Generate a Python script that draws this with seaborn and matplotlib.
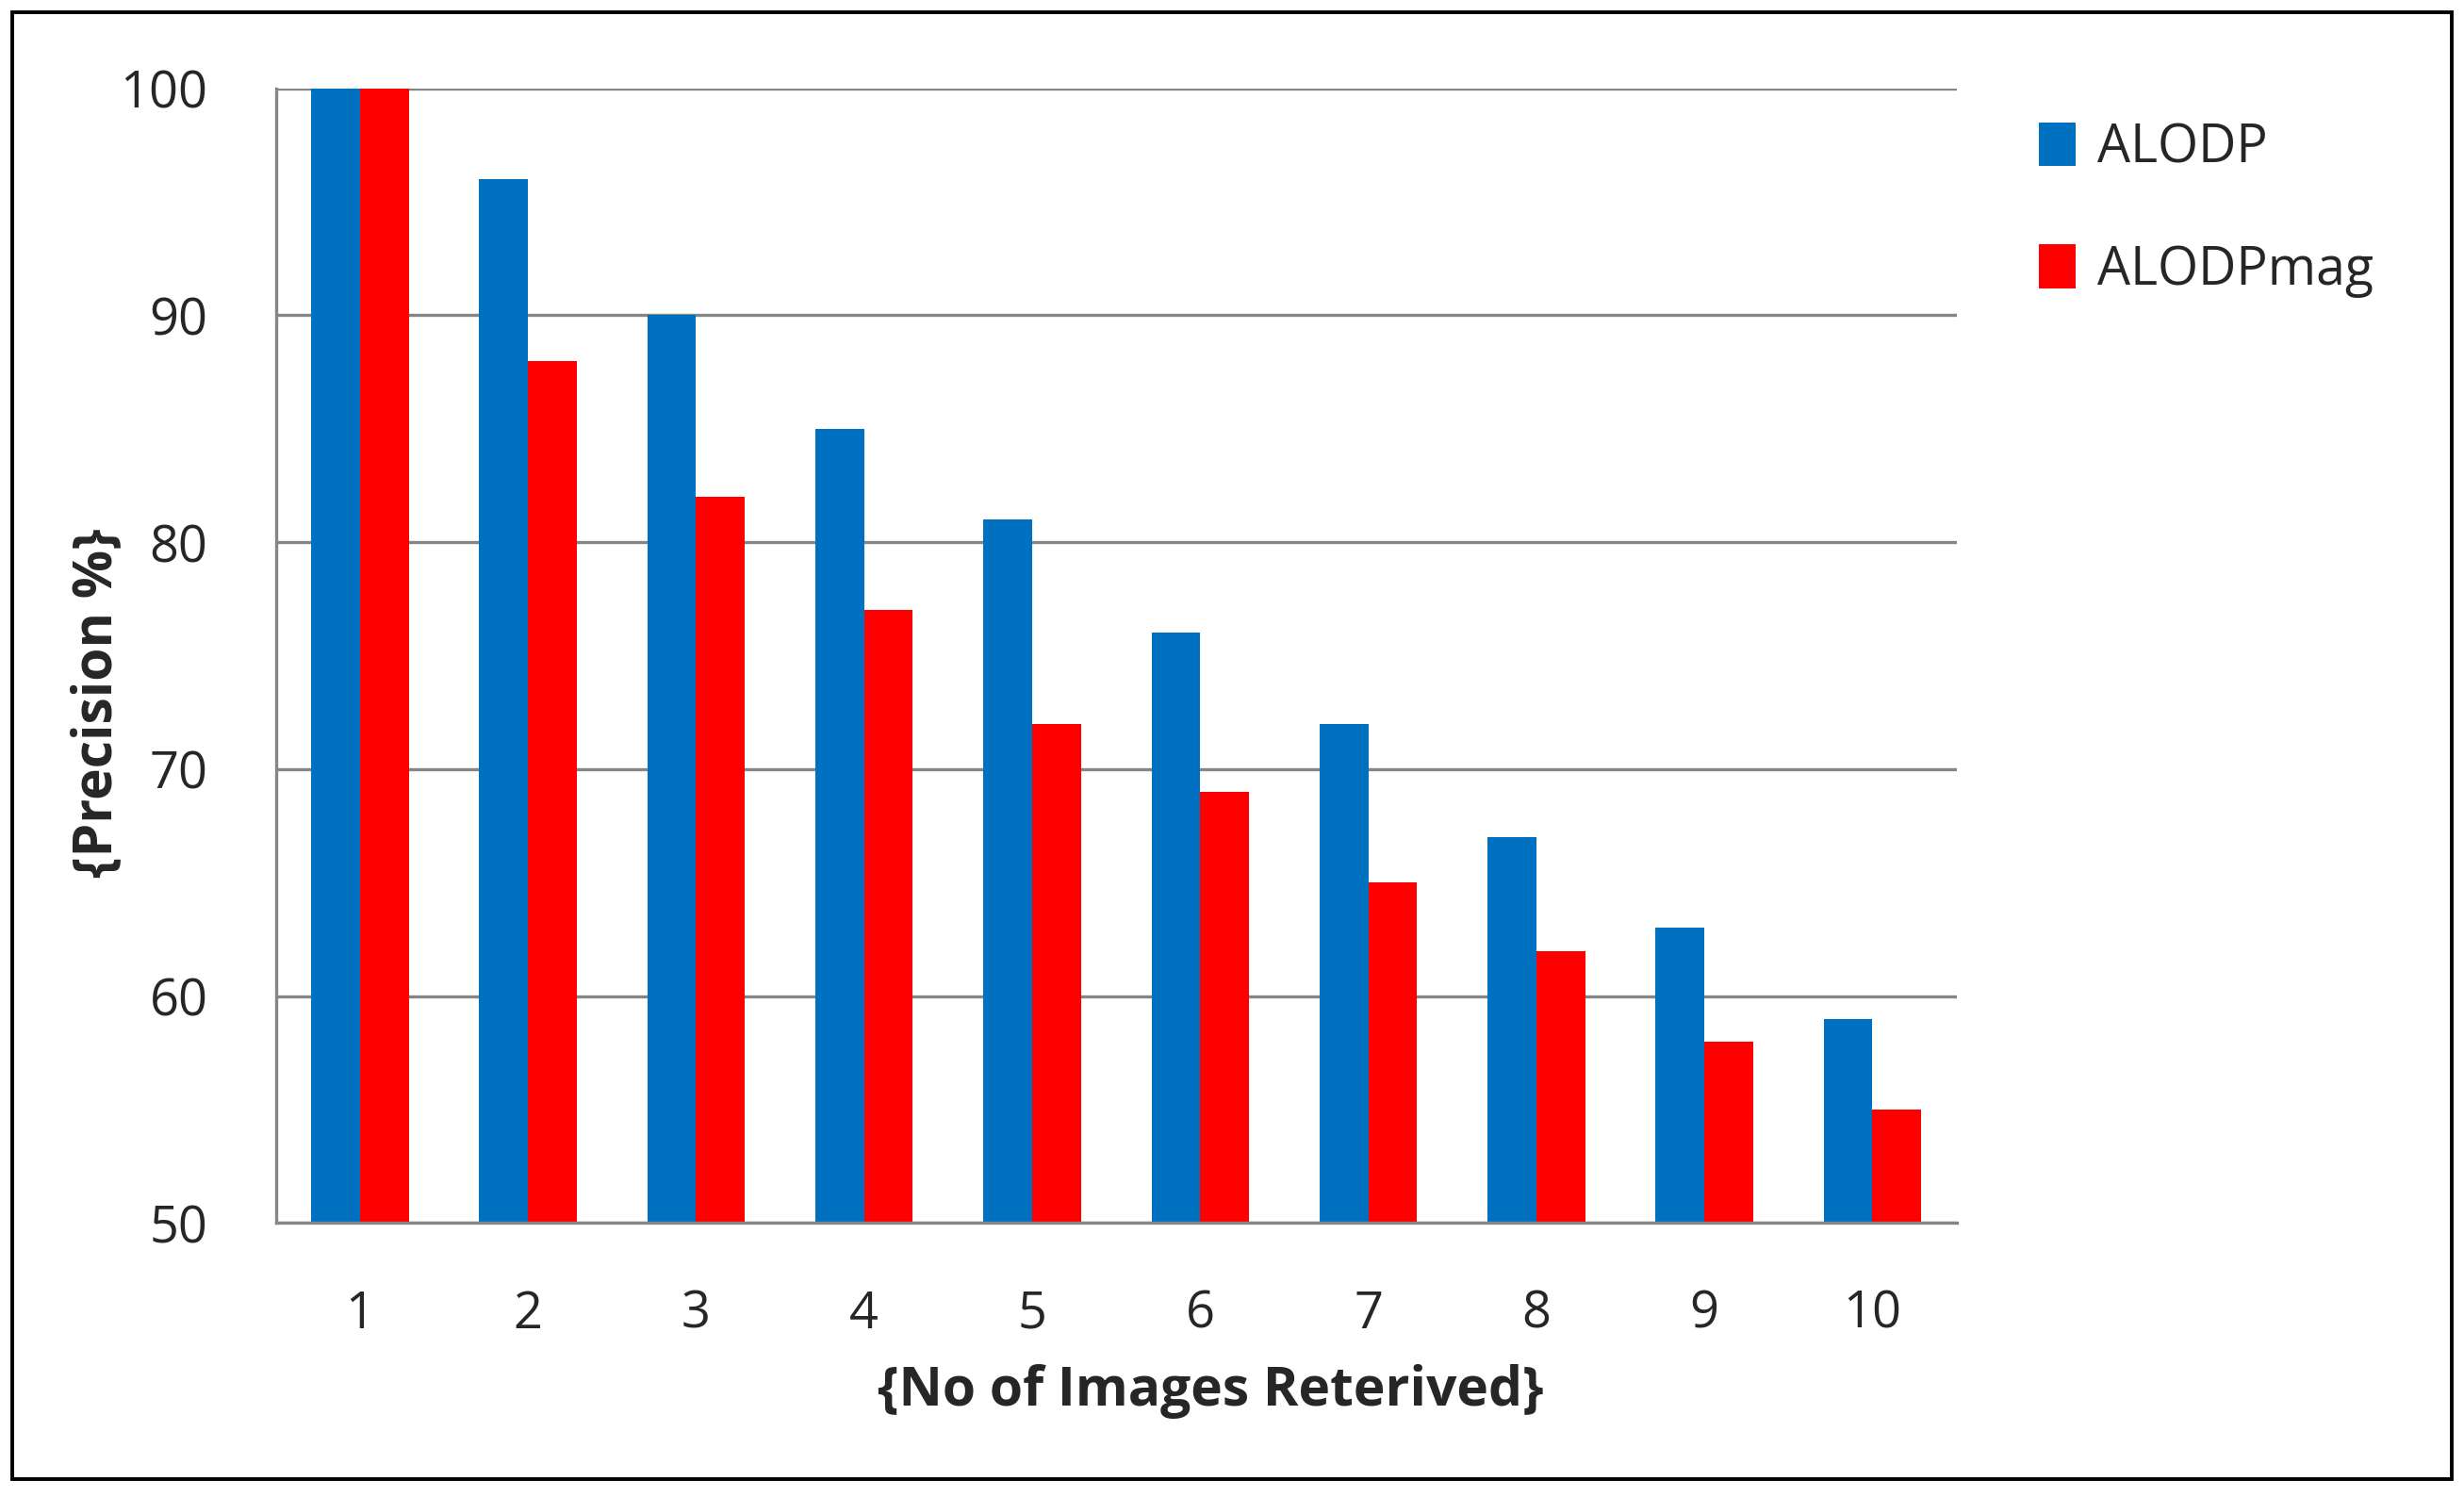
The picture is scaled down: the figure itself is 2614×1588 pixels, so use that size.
import matplotlib
matplotlib.use("Agg")
import matplotlib.pyplot as plt
from matplotlib.patches import Rectangle
import numpy as np
import pandas as pd
import seaborn as sns

images = ["1", "2", "3", "4", "5", "6", "7", "8", "9", "10"]
alodp = [100, 96, 90, 85, 81, 76, 72, 67, 63, 59]
alodp_mag = [100, 88, 82, 77, 72, 69, 65, 62, 58, 55]
series = ["ALODP", "ALODPmag"]
colors = ["#0070C0", "#FF0000"]
yticks = [50, 60, 70, 80, 90, 100]

df = pd.DataFrame({
    "images": images * 2,
    "precision": alodp + alodp_mag,
    "method": [series[0]] * len(images) + [series[1]] * len(images),
})

sns.set_style("white")
plt.rcParams["font.family"] = ["Open Sans", "DejaVu Sans"]

GRID = "#868686"

fig = plt.figure(figsize=(26.14, 15.88), dpi=100)
ax = fig.add_axes([0.112, 0.183, 0.682, 0.758])

sns.barplot(data=df, x="images", y="precision", hue="method", palette=colors,
            width=0.58, saturation=1, edgecolor="none", linewidth=0, ax=ax)

ax.set_ylim(50, 100)
ax.set_xlim(-0.5, len(images) - 0.5)
ax.set_yticks(yticks)
ax.yaxis.grid(True, color=GRID, linewidth=2.4)
ax.set_axisbelow(True)

for side in ["top", "right"]:
    ax.spines[side].set_visible(False)
for side in ["left", "bottom"]:
    ax.spines[side].set_color(GRID)
    ax.spines[side].set_linewidth(2.4)

ax.set_xticks(np.arange(-0.5, len(images), 1), minor=True)
ax.tick_params(axis="x", which="major", length=0, pad=50, labelsize=39)
ax.tick_params(axis="x", which="minor", length=15, width=2.2, color=GRID, direction="out")
ax.tick_params(axis="y", which="major", length=6, width=2.2, color=GRID, pad=46, labelsize=39)

ax.set_xlabel("{No of Images Reterived}", fontsize=41, fontweight="bold")
ax.set_ylabel("{Precision %}", fontsize=41, fontweight="bold")
ax.xaxis.set_label_coords(0.556, -0.124)
ax.yaxis.set_label_coords(-0.09, 0.458)

ax.legend(loc="upper left", bbox_to_anchor=(0.817, 0.936), bbox_transform=fig.transFigure,
          frameon=False, fontsize=40, handlelength=0.7, handleheight=0.9,
          handletextpad=0.4, labelspacing=1.3, borderpad=0)

fig.patches.append(Rectangle((0.005, 0.012), 0.99, 0.98, transform=fig.transFigure,
                             fill=False, edgecolor="black", linewidth=2.8))

fig.savefig("out.png", dpi=100)
